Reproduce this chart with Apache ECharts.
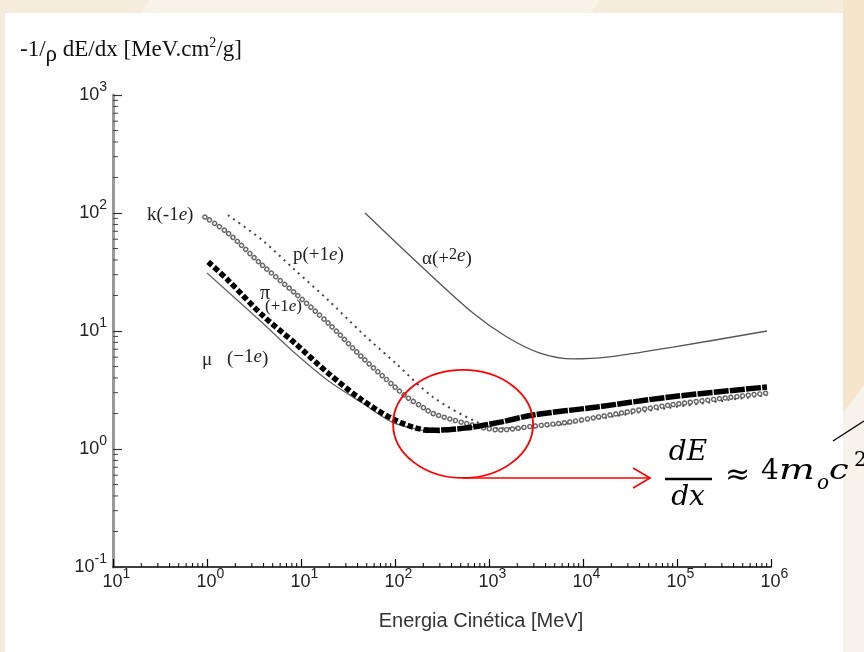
<!DOCTYPE html>
<html>
<head>
<meta charset="utf-8">
<script src="https://cdn.jsdelivr.net/npm/echarts@6/dist/echarts.min.js"></script>
<style>
  html, body { margin: 0; padding: 0; background: #f6ecdc; }
  #chart { width: 864px; height: 652px; }
</style>
</head>
<body>
<div id="chart"></div>
<script>
// Tick label exponents (base 10), as printed on each axis
const xTickExp = ['1', '0', '1', '2', '3', '4', '5', '6'];
const yTickExp = ['-1', '0', '1', '2', '3'];

// Stopping power curves: kinetic energy [MeV] -> -1/rho dE/dx [MeV cm2/g]
const muE = [1.0, 3.9, 8.6, 19, 45, 93, 185, 300];
const muV = [31, 11.7, 6.5, 3.85, 2.45, 1.69, 1.45, 1.37];

const piE = [1.03, 1.67, 3.85, 8.6, 19.4, 44.6, 100, 208, 253, 583, 1310, 2940, 14100, 84300, 906000];
const piV = [38.5, 27, 13.7, 7.9, 4.4, 2.6, 1.76, 1.45, 1.44, 1.51, 1.69, 1.94, 2.27, 2.76, 3.35];

const kE = [0.95, 1.67, 3.85, 8.6, 19.4, 44.6, 100, 134, 208, 253, 583, 1310, 2940, 6760, 14100, 84300, 906000];
const kV = [92.5, 67.7, 36.3, 21, 11.7, 6.0, 3.35, 2.75, 2.2, 2.0, 1.64, 1.45, 1.56, 1.68, 1.86, 2.36, 2.98];

const pE = [1.67, 3.85, 8.6, 19.4, 44.6, 100, 253, 745, 1310, 2940, 14100, 84300, 906000];
const pV = [96, 59, 32.9, 18.3, 9.6, 5.4, 2.76, 1.69, 1.5, 1.52, 1.8, 2.24, 2.86];

const alphaE = [48, 199, 676, 1550, 3490, 7830, 18000, 90600, 906000];
const alphaV = [100, 34.2, 14.2, 8.9, 6.5, 5.8, 6.0, 7.3, 10];

const zip = (a, b) => a.map((v, i) => [v, b[i]]);

// pion markers thin out on the falling branch and pack tightly past the minimum
const PI_SPLIT = 7;
const piFalling = zip(piE, piV).slice(0, PI_SPLIT + 2);
const piRising = zip(piE, piV).slice(PI_SPLIT);

// log-scale minor tick positions (2..9 x 10^k)
function minorValues(lo, hi) {
  const out = [];
  for (let k = lo; k < hi; k++) for (let m = 2; m <= 9; m++) out.push(m * Math.pow(10, k));
  return out;
}
const xMinor = minorValues(-1, 6).map(v => [v, 0.1]);
const yMinor = minorValues(-1, 3).map(v => [0.1, v]);

const SERIF = '"Liberation Serif", "Times New Roman", serif';
const SANS = '"Liberation Sans", Arial, sans-serif';
const MATH = '"DejaVu Serif", serif';

const tickRich = {
  b: { fontSize: 18, fontFamily: SANS, color: '#222', lineHeight: 18, verticalAlign: 'bottom' },
  s: { fontSize: 14, fontFamily: SANS, color: '#222', lineHeight: 14, padding: [0, 0, 10, 0], verticalAlign: 'bottom' }
};
const expIndex = v => Math.round(Math.log10(v)) + 1;

const chart = echarts.init(document.getElementById('chart'), null, { renderer: 'canvas' });

// text runs laid out left to right, measured with the real font
const mctx = document.createElement('canvas').getContext('2d');
function textRuns(x, y, parts, family, color) {
  const out = [];
  let cx = x;
  parts.forEach(p => {
    const font = (p.it ? 'italic ' : '') + p.s + 'px ' + family;
    mctx.font = font;
    out.push({
      type: 'text', x: cx + (p.dx || 0), y: y + (p.dy || 0), z: 50,
      style: { text: p.t, font: font, fill: color, align: 'left', verticalAlign: 'middle' }
    });
    cx += mctx.measureText(p.t).width + (p.dx || 0);
  });
  return out;
}

const background = [
  { type: 'polygon', z: -20, shape: { points: [[150, 0], [600, 0], [590, 13], [140, 13]] }, style: { fill: '#f8f2e8' } },
  { type: 'polygon', z: -20, shape: { points: [[843, 0], [864, 0], [864, 385], [843, 413]] }, style: { fill: '#f4e5cb' } },
  { type: 'polygon', z: -20, shape: { points: [[843, 413], [864, 385], [864, 652], [843, 652]] }, style: { fill: '#f7f2ea' } },
  { type: 'rect', z: -10, shape: { x: 5, y: 13, width: 838, height: 639 }, style: { fill: '#ffffff' } }
];

const labels = [].concat(
  // quantity on the vertical axis
  textRuns(20, 50, [
    { t: '-1/', s: 23 }, { t: 'ρ', s: 23, dy: 5 }, { t: ' dE/dx [MeV.cm', s: 23 },
    { t: '2', s: 14, dy: -7 }, { t: '/g]', s: 23 }
  ], SERIF, '#111'),
  textRuns(147, 215, [{ t: 'k(-1', s: 19 }, { t: 'e', s: 19, it: true }, { t: ')', s: 19 }], SERIF, '#222'),
  textRuns(293, 255, [{ t: 'p(+1', s: 19 }, { t: 'e', s: 19, it: true }, { t: ')', s: 19 }], SERIF, '#222'),
  textRuns(260, 294, [{ t: 'π', s: 20 }], SERIF, '#222'),
  textRuns(265, 307, [{ t: '(+1', s: 17 }, { t: 'e', s: 17, it: true }, { t: ')', s: 17 }], SERIF, '#222'),
  textRuns(202, 360, [{ t: 'μ', s: 19 }], SERIF, '#222'),
  textRuns(227, 359, [{ t: '(', s: 19 }, { t: '−1', s: 19, dy: -2 }, { t: 'e', s: 19, it: true, dy: -2 }, { t: ')', s: 19 }], SERIF, '#222'),
  textRuns(422, 259, [{ t: 'α(+', s: 19 }, { t: '2', s: 16, dy: -4 }, { t: 'e', s: 19, it: true, dy: -3 }, { t: ')', s: 19 }], SERIF, '#222'),
  [{ type: 'text', z: 50, x: 481, y: 621, style: { text: 'Energia Cinética [MeV]', font: '20px ' + SANS, fill: '#333', align: 'center', verticalAlign: 'middle' } }]
);

const option = {
  animation: false,
  backgroundColor: '#f6ecdc',
  grid: { left: 113, top: 95, right: 93, bottom: 85, containLabel: false },
  xAxis: {
    type: 'log', logBase: 10, min: 0.1, max: 1e6,
    axisLine: { lineStyle: { color: '#000', width: 1.6 } },
    axisTick: { inside: true, length: 8, lineStyle: { color: '#000', width: 1.2 } },
    axisLabel: {
      margin: 6, padding: [0, 0, 0, 7], showMinLabel: true, showMaxLabel: true,
      formatter: v => '{b|10}{s|' + xTickExp[expIndex(v)] + '}',
      rich: tickRich
    },
    splitLine: { show: false }
  },
  yAxis: {
    type: 'log', logBase: 10, min: 0.1, max: 1000,
    axisLine: { lineStyle: { color: '#999', width: 3 } },
    axisTick: { inside: true, length: 9, lineStyle: { color: '#333', width: 1.2 } },
    axisLabel: {
      margin: 6, showMinLabel: true, showMaxLabel: true,
      formatter: v => '{b|10}{s|' + yTickExp[expIndex(v)] + '}',
      rich: tickRich
    },
    splitLine: { show: false }
  },
  series: [
    {
      name: 'p(+1e)', type: 'line', data: zip(pE, pV), showSymbol: false, smooth: 0.3,
      lineStyle: { color: '#444', width: 2, type: [2, 4.5] }, z: 3
    },
    {
      name: 'k(-1e)', type: 'line', data: zip(kE, kV), showSymbol: false, smooth: 0.3,
      lineStyle: { color: '#666', width: 5.4, type: [0.01, 5.8], cap: 'round' }, z: 4
    },
    {
      name: 'k(-1e) hollow', type: 'line', data: zip(kE, kV), showSymbol: false, smooth: 0.3,
      lineStyle: { color: '#ffffff', width: 2.6, type: [0.01, 5.8], cap: 'round' }, z: 5
    },
    {
      name: 'mu(-1e)', type: 'line', data: zip(muE, muV), showSymbol: false, smooth: 0.3,
      lineStyle: { color: '#666', width: 1.3 }, z: 6
    },
    {
      name: 'pi(+1e)', type: 'line', data: piFalling, showSymbol: false, smooth: 0.3,
      lineStyle: { color: '#000', width: 5.5, type: [5.5, 2.6] }, z: 7
    },
    {
      name: 'pi(+1e) dense', type: 'line', data: piRising, showSymbol: false, smooth: 0.3,
      lineStyle: { color: '#000', width: 5.5, type: [15, 1.2] }, z: 7
    },
    {
      name: 'alpha(+2e)', type: 'line', data: zip(alphaE, alphaV), showSymbol: false, smooth: 0.3,
      lineStyle: { color: '#555', width: 1.3 }, z: 6
    },
    {
      name: 'x minor ticks', type: 'custom', data: xMinor, z: 8, silent: true,
      renderItem: (params, api) => {
        const p = api.coord([api.value(0), api.value(1)]);
        return { type: 'line', shape: { x1: p[0], y1: p[1], x2: p[0], y2: p[1] - 4 }, style: { stroke: '#000', lineWidth: 1 } };
      }
    },
    {
      name: 'y minor ticks', type: 'custom', data: yMinor, z: 8, silent: true,
      renderItem: (params, api) => {
        const p = api.coord([api.value(0), api.value(1)]);
        return { type: 'line', shape: { x1: p[0], y1: p[1], x2: p[0] + 5, y2: p[1] }, style: { stroke: '#444', lineWidth: 1 } };
      }
    }
  ],
  graphic: { elements: background.concat(labels) }
};
chart.setOption(option);

// Annotation: the minimum-ionisation region, with arrow to the formula
const c = chart.convertToPixel({ gridIndex: 0 }, [530, 1.63]);
const rx = 70, ry = 54;
const ay = c[1] + ry, ax2 = c[0] + 187;
const mathText = (x, y, t, font, align, sx) => ({
  type: 'text', z: 60, x: x, y: y, scaleX: sx || 1,
  style: { text: t, font: font, fill: '#000', align: align || 'left', verticalAlign: 'middle' }
});
const annot = [
  { type: 'ellipse', z: 60, shape: { cx: c[0], cy: c[1], rx: rx, ry: ry }, style: { fill: 'none', stroke: '#f00', lineWidth: 1.8 } },
  { type: 'polyline', z: 60, shape: { points: [[c[0], ay], [ax2, ay]] }, style: { stroke: '#f00', lineWidth: 1.6 } },
  { type: 'polyline', z: 60, shape: { points: [[ax2 - 17, ay - 10], [ax2, ay], [ax2 - 17, ay + 10]] }, style: { stroke: '#f00', lineWidth: 1.6, fill: 'none' } },
  // dE/dx ≈ 4 m_o c^2
  mathText(688, 453, 'dE', 'italic 28px ' + MATH, 'center'),
  { type: 'line', z: 60, shape: { x1: 665, y1: 479, x2: 712, y2: 479 }, style: { stroke: '#000', lineWidth: 2.4 } },
  mathText(688, 498, 'dx', 'italic 28px ' + MATH, 'center'),
  mathText(725, 476, '≈', '30px ' + MATH),
  mathText(761, 472, '4', '28px ' + MATH),
  mathText(779, 472, 'm', 'italic 28px ' + MATH, 'left', 1.35),
  mathText(817, 484, 'o', 'italic 20px ' + MATH),
  mathText(829, 472, 'c', 'italic 28px ' + MATH, 'left', 1.25),
  mathText(854, 461, '2', '20px ' + MATH),
  { type: 'line', z: 60, shape: { x1: 833, y1: 441, x2: 864, y2: 421 }, style: { stroke: '#000', lineWidth: 1.4 } }
];
chart.setOption({ graphic: { elements: background.concat(labels, annot) } });
</script>
</body>
</html>
